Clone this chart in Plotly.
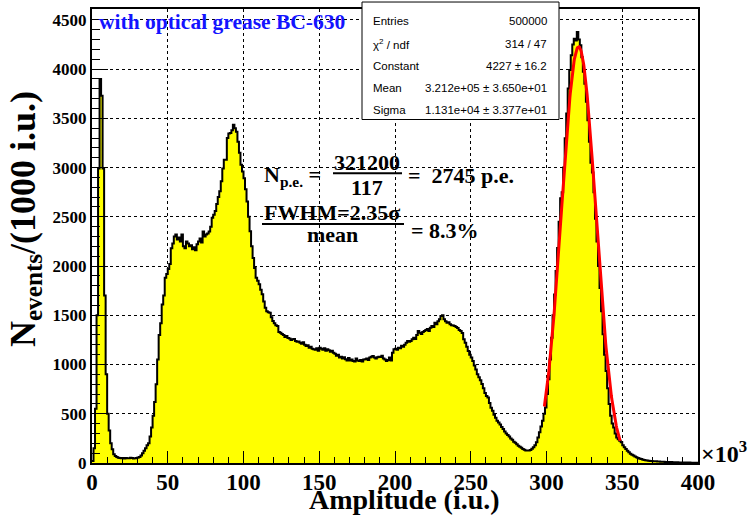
import plotly.graph_objects as go
import numpy as np

# ---------------- data (bin contents, 1000 i.u. bins, 0..400 x10^3) ----------------
bin_low_k = list(range(0, 400))  # left edges of bins, in units of 10^3 i.u.
counts = [
    # 0-9
    20, 150, 550, 1500, 2990, 3900, 3730, 2990, 1700, 900,
    # 10-19
    500, 330, 200, 140, 90, 72, 60, 54, 50, 48,
    # 20-29
    50, 46, 52, 49, 47, 53, 50, 46, 49, 52,
    # 30-39
    55, 62, 75, 100, 125, 150, 180, 200, 270, 360,
    # 40-49
    480, 620, 800, 1050, 1300, 1420, 1610, 1700, 1880, 1920,
    # 50-59
    1970, 2020, 2180, 2230, 2300, 2320, 2270, 2290, 2250, 2320,
    # 60-69
    2200, 2180, 2250, 2230, 2200, 2210, 2170, 2190, 2160, 2220,
    # 70-79
    2250, 2280, 2240, 2350, 2300, 2320, 2330, 2350, 2400, 2490,
    # 80-89
    2520, 2560, 2630, 2700, 2760, 2860, 2990, 3080, 3080, 3300,
    # 90-99
    3347, 3350, 3380, 3435, 3400, 3364, 3263, 3150, 3028, 2960,
    # 100-109
    2892, 2780, 2656, 2500, 2352, 2200, 2082, 1980, 1880, 1850,
    # 110-119
    1815, 1760, 1714, 1640, 1576, 1540, 1530, 1525, 1480, 1441,
    # 120-129
    1420, 1400, 1391, 1330, 1323, 1310, 1300, 1280, 1289, 1270,
    # 130-139
    1265, 1250, 1256, 1260, 1240, 1230, 1235, 1222, 1210, 1225,
    # 140-149
    1200, 1188, 1195, 1170, 1180, 1160, 1155, 1150, 1165, 1140,
    # 150-159
    1171, 1160, 1150, 1165, 1140, 1155, 1145, 1130, 1140, 1120,
    # 160-169
    1110, 1090, 1100, 1070, 1080, 1060, 1075, 1054, 1040, 1065,
    # 170-179
    1040, 1050, 1036, 1030, 1060, 1040, 1036, 1045, 1030, 1050,
    # 180-189
    1054, 1060, 1045, 1070, 1080, 1087, 1070, 1060, 1075, 1080,
    # 190-199
    1077, 1090, 1060, 1050, 1036, 1045, 1070, 1040, 1120, 1155,
    # 200-209
    1160, 1150, 1171, 1165, 1190, 1180, 1200, 1222, 1240, 1230,
    # 210-219
    1239, 1256, 1272, 1260, 1300, 1340, 1323, 1310, 1330, 1340,
    # 220-229
    1350, 1360, 1340, 1373, 1390, 1380, 1424, 1410, 1440, 1460,
    # 230-239
    1492, 1500, 1460, 1440, 1424, 1430, 1410, 1400, 1395, 1391,
    # 240-249
    1380, 1370, 1350, 1340, 1320, 1256, 1220, 1180, 1138, 1100,
    # 250-259
    1070, 1036, 990, 950, 902, 870, 840, 801, 760, 710,
    # 260-269
    680, 665, 610, 560, 530, 490, 460, 430, 412, 390,
    # 270-279
    365, 345, 320, 300, 285, 270, 250, 235, 215, 205,
    # 280-289
    190, 176, 165, 155, 143, 135, 128, 126, 128, 133,
    # 290-299
    145, 159, 180, 210, 260, 311, 370, 429, 500, 564,
    # 300-309
    700, 850, 1050, 1272, 1500, 1711, 1950, 2183, 2450, 2689,
    # 310-319
    2750, 3000, 3297, 3550, 3803, 3990, 4141, 4250, 4309, 4290,
    # 320-329
    4377, 4300, 4242, 4120, 3972, 3850, 3668, 3480, 3263, 3050,
    # 330-339
    2950, 2750, 2480, 2250, 2000, 1778, 1540, 1307, 1100, 935,
    # 340-349
    760, 598, 480, 400, 361, 300, 260, 240, 225, 210,
    # 350-359
    180, 160, 143, 125, 110, 95, 85, 75, 65, 58,
    # 360-369
    50, 45, 40, 35, 31, 28, 25, 23, 21, 20,
    # 370-379
    18, 17, 17, 15, 14, 13, 12, 12, 11, 10,
    # 380-389
    10, 9, 9, 8, 8, 7, 7, 6, 6, 5,
    # 390-399
    5, 5, 4, 4, 4, 3, 3, 3, 2, 2,
]

# Gaussian fit parameters (from the stats box), x in units of 10^3 i.u.
fit_constant = 4227.0
fit_mean_k = 321.2
fit_sigma_k = 11.31
fit_range_k = [298.6, 348.6]

stats_names = ["Entries", "\u03c7<sup>2</sup> / ndf", "Constant", "Mean", "Sigma"]
stats_values = ["500000", "314 / 47", "4227 \u00b1 16.2",
                "3.212e+05 \u00b1 3.650e+01", "1.131e+04 \u00b1 3.377e+01"]

x_ticks = [0, 50, 100, 150, 200, 250, 300, 350, 400]
y_ticks = [0, 500, 1000, 1500, 2000, 2500, 3000, 3500, 4000, 4500]

# ---------------- geometry helpers ----------------
W, H = 753, 515
L, R, T, B = 92, 698, 7, 463


def px(x):
    return (x - L) / (R - L)


def py(y):
    return (B - y) / (B - T)


SERIF = "Liberation Serif"
SANS = "Liberation Sans"

fig = go.Figure()

# histogram as a filled step line
xs = list(bin_low_k) + [bin_low_k[-1] + 1]
ys = list(counts) + [counts[-1]]
fig.add_trace(go.Scatter(
    x=xs, y=ys, mode="lines", line=dict(shape="hv", color="black", width=2),
    fill="tozeroy", fillcolor="rgb(255,255,0)", hoverinfo="skip", showlegend=False))

# fit curve
xf = np.linspace(fit_range_k[0], fit_range_k[1], 200)
yf = fit_constant * np.exp(-0.5 * ((xf - fit_mean_k) / fit_sigma_k) ** 2)
fig.add_trace(go.Scatter(x=xf, y=yf, mode="lines", line=dict(color="red", width=3),
                         hoverinfo="skip", showlegend=False))

fig.update_layout(
    width=W, height=H,
    margin=dict(l=L, r=W - R, t=T, b=H - B, pad=0),
    paper_bgcolor="white", plot_bgcolor="white",
    showlegend=False,
)

fig.update_xaxes(
    range=[0, 400], tickvals=x_ticks, ticktext=[str(v) for v in x_ticks],
    ticks="inside", ticklen=12, tickwidth=1, tickcolor="black",
    minor=dict(dtick=10, tick0=0, ticks="inside", ticklen=6, tickcolor="black", showgrid=False),
    showline=True, linecolor="black", linewidth=2, mirror=True,
    showgrid=True, gridcolor="black", griddash="dot", gridwidth=1,
    tickfont=dict(family=SERIF, size=23, color="black", weight="bold"),
    ticklabelstandoff=-3,
    zeroline=False,
)
fig.update_yaxes(
    range=[0, 4610], tickvals=y_ticks, ticktext=[str(v) for v in y_ticks],
    ticks="inside", ticklen=16, tickwidth=1, tickcolor="black",
    minor=dict(dtick=100, tick0=0, ticks="inside", ticklen=8, tickcolor="black", showgrid=False),
    showline=True, linecolor="black", linewidth=2, mirror=True,
    showgrid=True, gridcolor="black", griddash="dot", gridwidth=1,
    tickfont=dict(family=SERIF, size=17, color="black", weight="bold"),
    zeroline=False,
)

ann = []
shapes = []


def text(x, y, s, size, xanchor="left", yanchor="middle", family=SERIF, color="black",
         weight="bold", angle=0):
    ann.append(dict(xref="paper", yref="paper", x=px(x), y=py(y), text=s, showarrow=False,
                    xanchor=xanchor, yanchor=yanchor, textangle=angle,
                    font=dict(family=family, size=size, color=color, weight=weight)))


# axis titles
text(404, 500, "Amplitude (i.u.)", 28, xanchor="center")
text(25, 218, "N<sub>events</sub>/(1000 i.u.)", 36, xanchor="center", angle=-90)
text(699, 452, "\u00d710<sup>3</sup>", 24)

# blue label
text(97, 20, "with optical grease BC-630", 21.5, color="rgb(20,20,255)")

# formulas
text(262, 175, "N<sub>p.e.</sub> =", 22)
text(367, 161, "321200", 22, xanchor="center")
text(367, 186, "117", 22, xanchor="center")
shapes.append(dict(type="line", xref="paper", yref="paper", x0=px(333), x1=px(402),
                   y0=py(172), y1=py(172), line=dict(color="black", width=2)))
text(406, 174, "=  2745 p.e.", 22)

text(262, 211, "FWHM=2.35\u03c3", 22)
shapes.append(dict(type="line", xref="paper", yref="paper", x0=px(262), x1=px(404),
                   y0=py(223), y1=py(223), line=dict(color="black", width=2)))
text(332, 233, "mean", 22, xanchor="center")
text(409, 229, "= 8.3%", 22)

# stats box
shapes.append(dict(type="rect", xref="paper", yref="paper", x0=px(362), x1=px(559),
                   y0=py(118), y1=py(0), fillcolor="white", line=dict(color="black", width=1),
                   layer="above"))
row_y = [19, 42, 64, 86, 108]
for name, val, yy in zip(stats_names, stats_values, row_y):
    text(371, yy, name, 11.5, family=SANS, weight="normal")
    text(549, yy, val, 11.5, xanchor="right", family=SANS, weight="normal")

fig.update_layout(annotations=ann, shapes=shapes)
fig.write_html("out.html")
